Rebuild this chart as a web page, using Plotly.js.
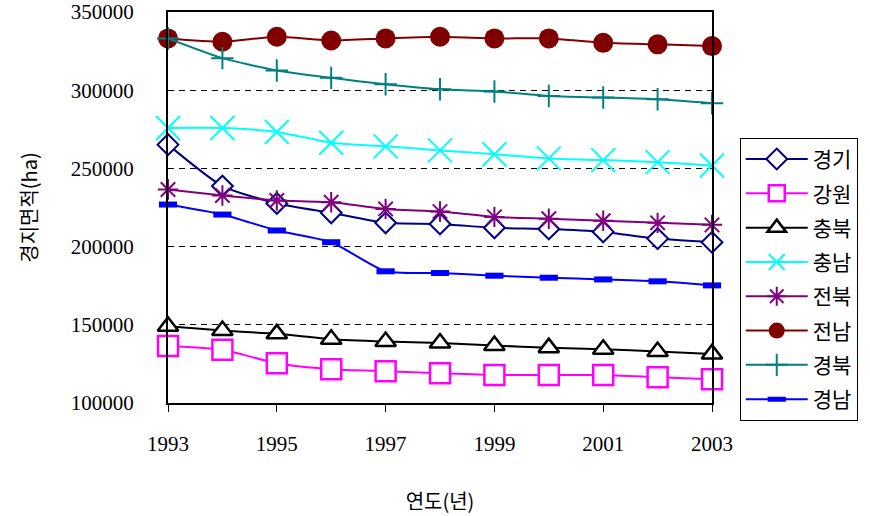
<!DOCTYPE html>
<html><head><meta charset="utf-8">
<script src="https://cdn.plot.ly/plotly-3.0.1.min.js"></script>
<style>html,body{margin:0;padding:0;background:#fff}#c{width:870px;height:516px}</style>
</head><body><div id="c"></div>
<script>
const years = [1993,1994,1995,1996,1997,1998,1999,2000,2001,2002,2003];
const names = ["경기","강원","충북","충남","전북","전남","경북","경남"];
const gyeonggi = [265200,238700,227600,221600,215200,214500,212000,211300,209400,205100,202800];
const gangwon = [136500,134000,125400,121600,120300,119000,117900,117900,117900,116500,115200];
const chungbuk = [149100,146300,144200,140800,139300,138300,136700,135400,134400,132900,131400];
const chungnam = [275800,275800,273300,266400,264100,261500,259000,256400,255300,254000,251900];
const jeonbuk = [236500,232700,229500,228400,224100,222400,219000,217800,216500,215200,213900];
const jeonnam = [333100,331000,334200,331800,333100,334200,333100,333100,330300,329300,328200];
const gyeongbuk = [333100,320500,312600,307900,303800,300600,299200,296300,295300,294200,291700];
const gyeongnam = [226900,220500,210300,202800,184200,183100,181400,180100,179000,177800,175200];
const series = [gyeonggi,gangwon,chungbuk,chungnam,jeonbuk,jeonnam,gyeongbuk,gyeongnam];

const colors = ["#000080","#FF00FF","#000000","#00FFFF","#800080","#800000","#008080","#0000FF"];
const symbols = ["diamond","square","triangle-up","x-thin-open","asterisk-open","circle","cross-thin-open","line-ew-open"];
const fills = ["#ffffff","#ffffff","#ffffff",null,null,"#800000",null,null];
const sizes = [16,20,18,24,17,20,16,13];
const mlw = [2,2.5,2.5,2,2,0,2,6];

const traces = series.map((s,i)=>({
  x: years, y: s, name: names[i], type:'scatter', mode:'lines+markers',
  legendgroup: 'g'+i,
  line:{color:colors[i], width:2, shape:'spline', smoothing:0.6},
  marker:{symbol:symbols[i], size:sizes[i], color: fills[i] || colors[i],
          line:{color:colors[i], width:mlw[i]}},
  cliponaxis:false
}));

const serif = "'Liberation Serif', 'Noto Sans CJK KR', serif";
Plotly.newPlot('c', traces, {
  width:870, height:516,
  margin:{l:168, r:156, t:12, b:113},
  paper_bgcolor:'#fff', plot_bgcolor:'#fff',
  font:{family:serif, color:'#000', size:21},
  showlegend:true,
  legend:{x:1.051, xanchor:'left', y:0.678, yanchor:'top', bordercolor:'#000', borderwidth:1,
          font:{family:"'Noto Sans CJK KR', sans-serif", size:21}, tracegroupgap:4, itemwidth:62, traceorder:'grouped'},
  xaxis:{range:[1993,2003], tickvals:[1993,1995,1997,1999,2001,2003], ticktext:['1993','1995','1997','1999','2001','2003'],
         ticks:'outside', ticklen:7, tickwidth:1, tickcolor:'#000', ticklabelstandoff:14,
         showline:true, linecolor:'#000', linewidth:2, mirror:true, showgrid:false, zeroline:false,
         title:{text:'연도(년)', font:{family:"'Noto Sans CJK KR', sans-serif", size:20}, standoff:40}},
  yaxis:{range:[100000,350000], dtick:50000, tickformat:'d', ticks:'', ticklabelstandoff:28,
         showline:true, linecolor:'#000', linewidth:2, mirror:true,
         showgrid:true, gridcolor:'#000', gridwidth:1, griddash:'6px,5px', zeroline:false,
         title:{text:'경지면적(ha)', font:{family:"'Noto Sans CJK KR', sans-serif", size:20}, standoff:28}}
}, {displayModeBar:false, staticPlot:true});
</script></body></html>
